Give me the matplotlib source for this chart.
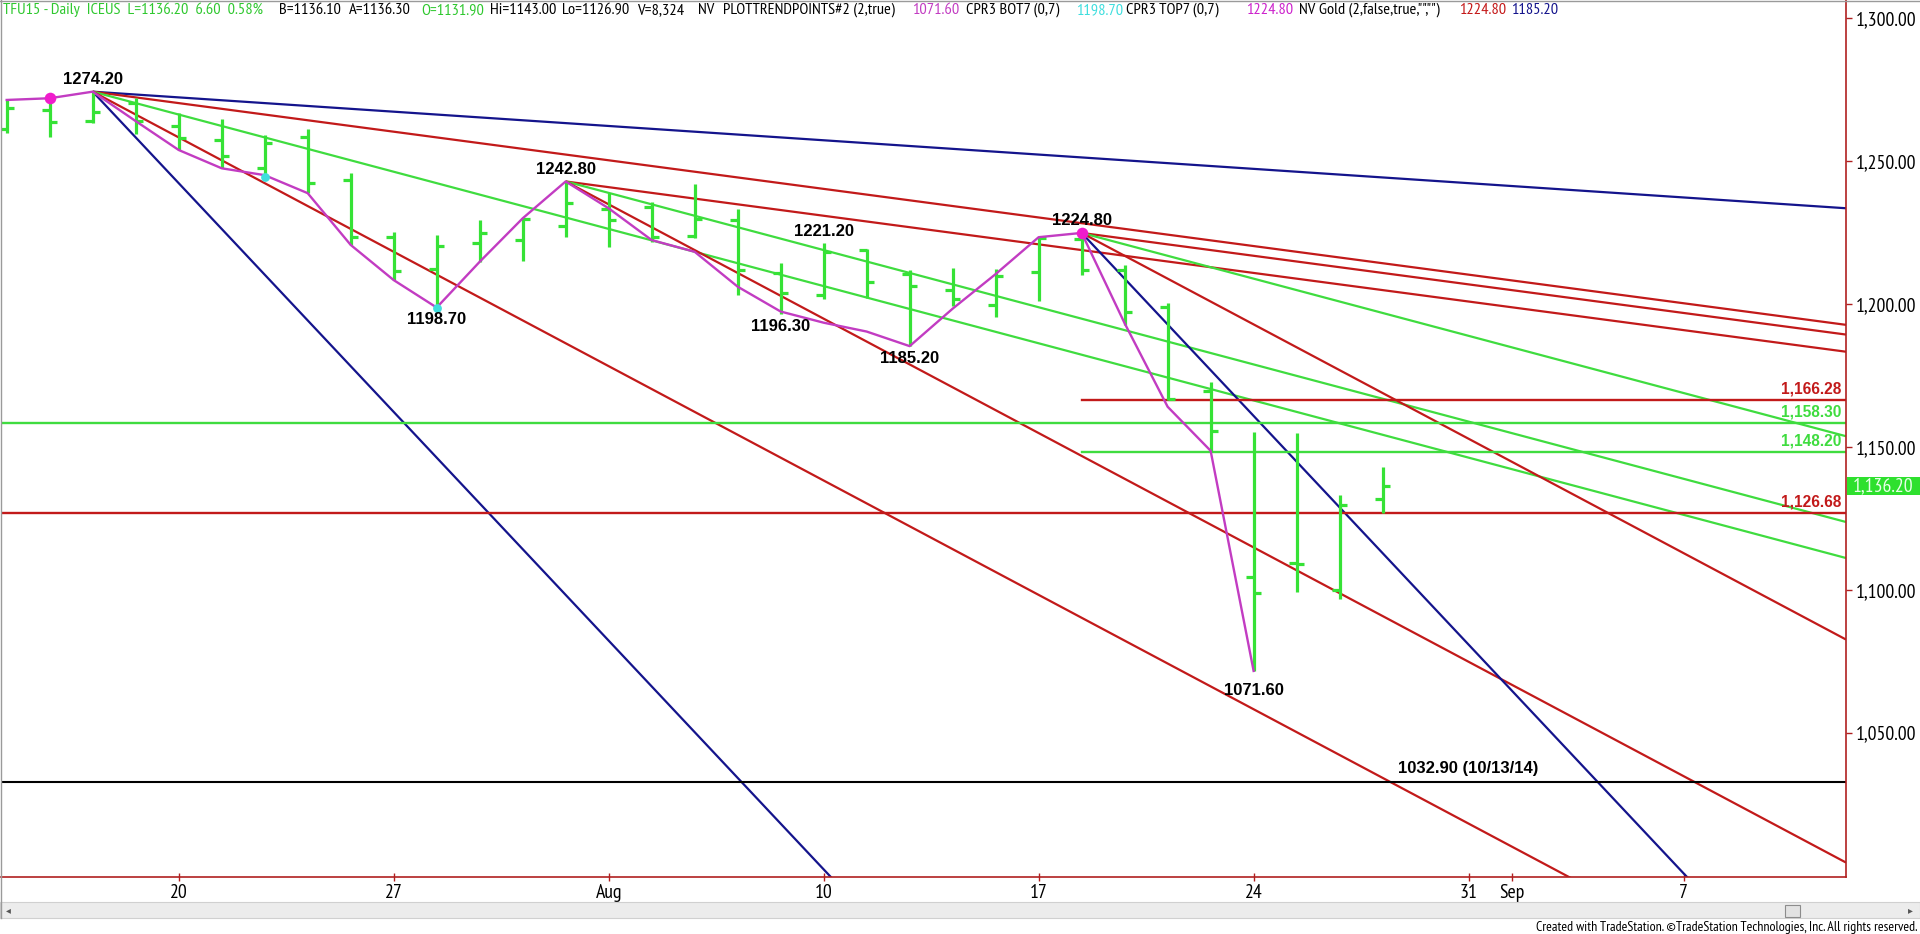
import matplotlib
matplotlib.use('Agg')
import matplotlib.pyplot as plt
import matplotlib.font_manager as fm
import matplotlib.transforms as mtransforms
from matplotlib.patches import Rectangle
from matplotlib.lines import Line2D
import numpy as np

# ---- fonts: TradeStation uses a narrow sans for axes/header
_names = {f.name for f in fm.fontManager.ttflist}
NARROW = None
for _n in ['Liberation Sans Narrow', 'Arial Narrow', 'PT Sans Narrow', 'Archivo Narrow',
           'Roboto Condensed']:
    if _n in _names:
        NARROW = _n
        break
BASE = 'Liberation Sans' if 'Liberation Sans' in _names else 'DejaVu Sans'


def nfont(size):
    if NARROW:
        return dict(family=[NARROW, 'DejaVu Sans'], fontsize=size)
    return dict(family=[BASE, 'DejaVu Sans'], fontsize=size * 0.82)


# ---- colours
GREEN = '#36e236'
LGREEN = '#3fdc3f'
RED = '#c21a1a'
NAVY = '#14148c'
MAGENTA = '#c23cc2'
PINK = '#f01ccc'
CYAN = '#3fdede'
AXRED = '#b02020'

# ---- daily OHLC, TFU15 (Jul 14 .. Aug 27, 2015)
dates = ['07-14', '07-15', '07-16', '07-17', '07-20', '07-21', '07-22', '07-23', '07-24',
         '07-27', '07-28', '07-29', '07-30', '07-31', '08-03', '08-04', '08-05', '08-06',
         '08-07', '08-10', '08-11', '08-12', '08-13', '08-14', '08-17', '08-18', '08-19',
         '08-20', '08-21', '08-24', '08-25', '08-26', '08-27']
opens = [1261.0, 1267.8, 1264.0, 1270.1, 1262.3, 1257.3, 1247.4, 1258.2, 1243.3,
         1223.5, 1212.1, 1221.4, 1222.3, 1227.3, 1233.0, 1234.0, 1223.8, 1229.3,
         1210.9, 1203.1, 1218.8, 1210.4, 1204.8, 1199.6, 1211.0, 1222.6, 1212.0,
         1198.8, 1169.6, 1104.3, 1109.5, 1099.9, 1131.9]
highs = [1271.3, 1271.9, 1274.2, 1271.9, 1266.6, 1264.5, 1259.0, 1261.0, 1245.9,
         1225.2, 1224.1, 1229.3, 1229.9, 1242.8, 1238.6, 1235.7, 1241.8, 1233.0,
         1214.2, 1221.2, 1219.0, 1211.8, 1212.6, 1212.1, 1223.3, 1224.8, 1213.6,
         1200.2, 1172.5, 1155.3, 1154.7, 1133.1, 1143.0]
lows = [1259.9, 1258.4, 1263.3, 1259.4, 1253.8, 1247.4, 1245.0, 1238.7, 1220.6,
        1208.3, 1198.7, 1214.7, 1215.1, 1223.5, 1220.0, 1221.7, 1222.9, 1203.1,
        1196.3, 1201.6, 1201.9, 1185.2, 1199.2, 1195.3, 1201.1, 1210.1, 1192.6,
        1166.4, 1148.2, 1071.6, 1099.3, 1096.6, 1126.9]
closes = [1268.4, 1263.6, 1267.2, 1263.9, 1257.9, 1251.7, 1256.1, 1242.2, 1223.3,
          1211.6, 1220.2, 1224.7, 1229.6, 1235.1, 1229.3, 1223.5, 1229.7, 1211.8,
          1203.7, 1218.2, 1207.7, 1206.2, 1201.6, 1209.7, 1222.9, 1211.8, 1197.3,
          1166.6, 1155.6, 1099.0, 1109.0, 1129.6, 1136.2]

# trend-point zigzag (bar index, price)
zig_idx = [0, 1, 2, 3, 4, 5, 6, 7, 8, 9, 10, 11, 12, 13, 14, 15, 16, 17, 18, 19, 20, 21,
           22, 23, 24, 25, 26, 27, 28, 29]
zig_px = [1271.3, 1271.9, 1274.2, 1263.9, 1253.8, 1247.4, 1245.0, 1238.7, 1220.6, 1208.3,
          1198.7, 1214.7, 1229.9, 1242.8, 1233.4, 1222.3, 1218.2, 1206.0, 1197.3, 1193.4,
          1190.3, 1185.2, 1198.3, 1210.4, 1223.3, 1224.8, 1193.2, 1164.0, 1148.6, 1071.6]

# swing labels
swing_idx = [2, 10, 13, 18, 19, 21, 25, 29]
swing_px = [1274.2, 1198.7, 1242.8, 1196.3, 1221.2, 1185.2, 1224.8, 1071.6]
swing_above = [True, False, True, False, True, False, True, False]

# pivot markers
pink_idx, pink_px = [1, 25], [1271.9, 1224.8]
cyan_idx, cyan_px = [6, 10], [1244.5, 1198.7]

# angle fan lines from the three pivots (price change per bar)
fan_idx = [2, 2, 2, 2, 2, 13, 13, 13, 25, 25, 25, 25]
fan_px = [1274.2, 1274.2, 1274.2, 1274.2, 1274.2, 1242.8, 1242.8, 1242.8,
          1224.8, 1224.8, 1224.8, 1224.8]
fan_slope = [-1, -2, -4, -8, -16, -2, -4, -8, -2, -4, -8, -16]
slope_color = {-1: NAVY, -2: RED, -4: LGREEN, -8: RED, -16: NAVY}

# horizontal levels
lvl_px = [1166.28, 1158.30, 1148.20, 1126.68]
lvl_start = [25, None, 25, None]
lvl_color = [RED, LGREEN, LGREEN, RED]
old_low, old_low_date = 1032.90, '10/13/14'

tick_idx = [4, 9, 14, 19, 24, 29, 34, 35, 39]
tick_lab = ['20', '27', 'Aug', '10', '17', '24', '31', 'Sep', '7']
ytick_vals = [1050, 1100, 1150, 1200, 1250, 1300]

# ---- figure
W, H = 1920, 934
fig = plt.figure(figsize=(W / 100, H / 100), dpi=100, facecolor='white')
ax = fig.add_axes([1 / W, 1 - 877 / H, 1845 / W, 877 / H])
ax.set_facecolor('white')
XMAX = 42.777
ax.set_xlim(-0.1326, XMAX)
ax.set_ylim(999.53, 1306.26)

x = np.arange(len(opens))

# fan lines
for i0, p0, s in zip(fan_idx, fan_px, fan_slope):
    ax.plot([i0, XMAX], [p0, p0 + s * (XMAX - i0)], color=slope_color[s], lw=1.6,
            zorder=2, solid_capstyle='butt')

# horizontal levels + labels
for p, st, c in zip(lvl_px, lvl_start, lvl_color):
    x0 = -0.1326 if st is None else st
    ax.plot([x0, XMAX], [p, p], color=c, lw=1.7, zorder=2)
    ax.annotate(f'{p:,.2f}', (0.9975, p), xycoords=ax.get_yaxis_transform(),
                xytext=(0, 2.6), textcoords='offset points', ha='right', va='bottom',
                color=c, fontsize=11.2, fontweight='bold', family=BASE, zorder=6)
ax.axhline(old_low, color='black', lw=1.5, zorder=2)
ax.annotate(f'{old_low:.2f} ({old_low_date})', (34, old_low), xytext=(0, 4),
            textcoords='offset points', ha='center', va='bottom', fontsize=12,
            fontweight='bold', family=BASE, color='black', zorder=6)

# OHLC bars
tw = 0.17
ax.vlines(x, lows, highs, color=GREEN, lw=2.3, zorder=3)
ax.hlines(opens, x - tw, x, color=GREEN, lw=2.3, zorder=3)
ax.hlines(closes, x, x + tw, color=GREEN, lw=2.3, zorder=3)

# zigzag + markers
ax.plot(zig_idx, zig_px, color=MAGENTA, lw=1.7, zorder=4)
ax.scatter(pink_idx, pink_px, s=70, color=PINK, zorder=5, linewidths=0)
ax.scatter(cyan_idx, cyan_px, s=40, color=CYAN, zorder=5, linewidths=0)

for i, p, up in zip(swing_idx, swing_px, swing_above):
    off = 3.2 if up else -3.2
    if p == min(swing_px):
        off = -8.5
    ax.annotate(f'{p:.2f}', (i, p), xytext=(0, off), textcoords='offset points',
                ha='center', va='bottom' if up else 'top', fontsize=12,
                fontweight='bold', family=BASE, color='black', zorder=6)

# ---- axes styling
for s in ['top', 'left']:
    ax.spines[s].set_visible(False)
ax.spines['right'].set_color(AXRED)
ax.spines['right'].set_linewidth(1.2)
ax.spines['bottom'].set_color(AXRED)
ax.spines['bottom'].set_linewidth(1.2)

ax.yaxis.tick_right()
ax.set_yticks(ytick_vals)
ax.set_yticklabels([f'{v:,.2f}' for v in ytick_vals], color='black', **nfont(14.2))
ax.tick_params(axis='y', length=4, width=1, color=AXRED, pad=3)
ax.set_xticks(tick_idx)
ax.set_xticklabels(tick_lab, color='black', **nfont(14.2))
ax.tick_params(axis='x', direction='inout', length=6, width=1, color=AXRED, pad=2)

# last price box on the axis
blend = mtransforms.blended_transform_factory(fig.transFigure, ax.transData)
last = closes[-1]
ax.add_patch(Rectangle((1847 / W, last - 3.1), (W - 1847) / W, 6.2, transform=blend,
                       facecolor='#2ee02e', edgecolor='none', clip_on=False, zorder=7))
ax.text(1883 / W, last, f'{last:,.2f}', transform=blend, ha='center', va='center',
        color='#e8ffe8', clip_on=False, zorder=8, **nfont(14.2))

# ---- header line
hdr = [
    ('TFU15 - Daily  ICEUS  L=1136.20  6.60  0.58%', '#2fc82f', 3),
    ('B=1136.10', 'black', 279), ('A=1136.30', 'black', 349),
    ('O=1131.90', '#2fc82f', 421), ('Hi=1143.00', 'black', 490),
    ('Lo=1126.90', 'black', 562), ('V=8,324', 'black', 637), ('NV', 'black', 698),
    ('PLOTTRENDPOINTS#2 (2,true)', 'black', 723), ('1071.60', MAGENTA, 912),
    ('CPR3 BOT7 (0,7)', 'black', 966), ('1198.70', CYAN, 1076),
    ('CPR3 TOP7 (0,7)', 'black', 1126), ('1224.80', '#cc22cc', 1246),
    ('NV Gold (2,false,true,"","")', 'black', 1299), ('1224.80', '#c41818', 1459),
    ('1185.20', NAVY, 1511),
]
for t, c, px in hdr:
    fig.text(px / W, 1 - 10 / H, t, color=c, ha='left', va='center', **nfont(11.8))

# ---- window chrome: borders, scroll bar, footer
fig.add_artist(Line2D([0, 1], [1 - 0.5 / H, 1 - 0.5 / H], color='#9a9a9a', lw=1))
fig.add_artist(Line2D([0.5 / W, 0.5 / W], [1 - 918 / H, 1], color='#9a9a9a', lw=1))
fig.add_artist(Rectangle((0, 1 - 918 / H), 1, 16 / H, transform=fig.transFigure,
                         facecolor='#ececec', edgecolor='#d0d0d0', lw=0.8))
fig.add_artist(Rectangle((1785 / W, 1 - 917 / H), 15 / W, 12 / H, transform=fig.transFigure,
                         facecolor='#e2e2e2', edgecolor='#8c8c8c', lw=0.8))
fig.text(6 / W, 1 - 910 / H, '\u25c2', fontsize=7, color='#555555', va='center')
fig.text(1908 / W, 1 - 910 / H, '\u25b8', fontsize=7, color='#555555', va='center')
fig.text(1918 / W, 1 - 927 / H,
         'Created with TradeStation. \u00a9TradeStation Technologies, Inc. All rights reserved.',
         ha='right', va='center', color='black', **nfont(10))

fig.savefig('out.png', dpi=100, facecolor='white')
